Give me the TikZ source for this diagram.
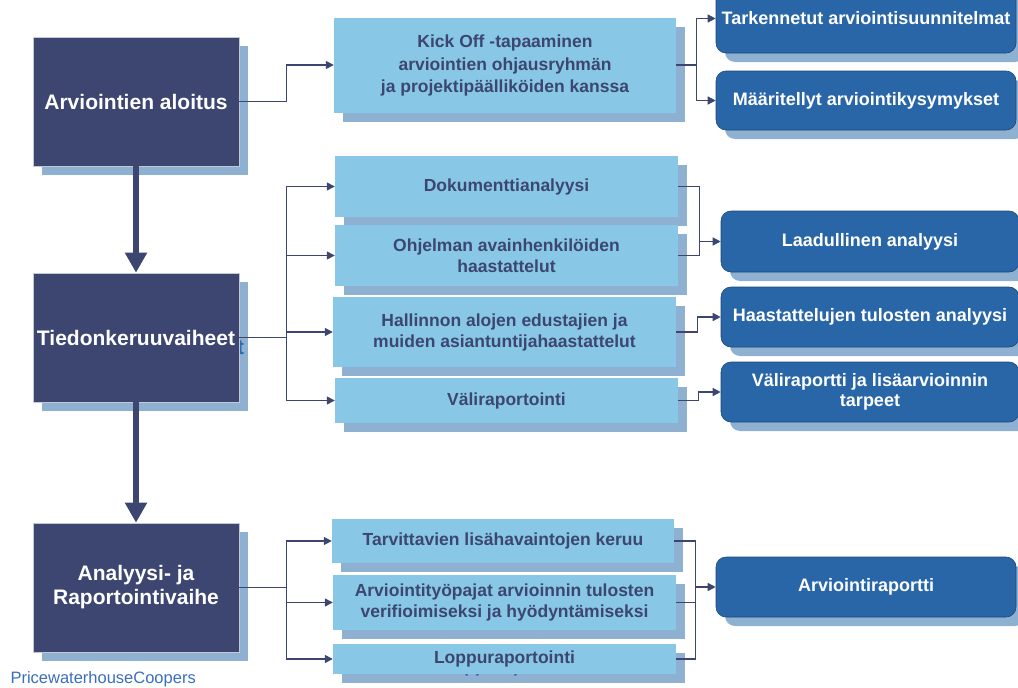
\documentclass[tikz,border=0pt]{standalone}
\usepackage{fontspec}
\setmainfont{Liberation Sans}
\usetikzlibrary{arrows.meta,calc}

\definecolor{phasenavy}{RGB}{60,70,112}
\definecolor{shadeblue}{RGB}{143,177,209}
\definecolor{stepblue}{RGB}{136,200,230}
\definecolor{resultblue}{RGB}{41,102,168}
\definecolor{ghostblue}{RGB}{43,108,176}
\definecolor{pwcblue}{RGB}{58,110,187}

% box with its offset shadow (optional arg: text showing through the shadow)
\newcommand{\boxwithshade}[5][]{%
  \node[#2,ghost] at ($(#4)+(9,9)$) {#1};
  \node[#2] (#3) at (#4) {#5};
}

\begin{document}
\begin{tikzpicture}[x=1pt,y=-1pt,
    phase/.style={fill=phasenavy,draw=white!70!phasenavy,line width=0.6pt,text=white,
      font=\fontsize{21}{24}\selectfont\bfseries,align=center,inner sep=0pt,
      minimum width=206pt,minimum height=129pt},
    stepbox/.style={fill=stepblue,text=phasenavy,font=\fontsize{17.5}{21}\selectfont\bfseries,
      align=center,inner sep=0pt,minimum width=343pt},
    result/.style={fill=resultblue,draw=resultblue!70!black,line width=0.6pt,rounded corners=10pt,
      text=white,font=\fontsize{18}{20}\selectfont\bfseries,align=center,inner sep=0pt,
      minimum width=300pt,minimum height=60pt},
    ghost/.style={fill=shadeblue,draw=none,text=ghostblue},
    wire/.style={draw=phasenavy,line width=1.4pt},
    link/.style={wire,-{Triangle[length=8pt,width=8pt]}},
    bigarrow/.style={draw=phasenavy,line width=6pt,-{Triangle[length=20pt,width=21pt]}}]
    \useasboundingbox (0,0) rectangle (1018,688);

    % phases
    \boxwithshade{phase}{start}{136,101.5}{Arviointien aloitus}
    \boxwithshade[Tiedonkeruuvaiheet]{phase}{collect}{136,337.5}{Tiedonkeruuvaiheet}
    \boxwithshade{phase}{analysis}{136,587.5}{Analyysi- ja\\Raportointivaihe}

    % steps
    \boxwithshade{stepbox,minimum width=342pt,minimum height=95pt}{kickoff}{505,65}{Kick Off -tapaaminen\\[2pt]arviointien ohjausryhmän\\[1pt]ja projektipäälliköiden kanssa}
    \boxwithshade{stepbox,minimum height=61pt}{docs}{506.5,186.5}{Dokumenttianalyysi}
    \boxwithshade{stepbox,minimum height=61pt}{keyppl}{506.5,255.5}{Ohjelman avainhenkilöiden\\haastattelut}
    \boxwithshade{stepbox,minimum height=70pt}{admin}{504.5,332}{Hallinnon alojen edustajien ja\\muiden asiantuntijahaastattelut}
    \boxwithshade{stepbox,minimum height=45pt}{interim}{506.5,400.5}{Väliraportointi}
    \boxwithshade{stepbox,minimum width=342pt,minimum height=44pt}{extra}{503,541}{Tarvittavien lisähavaintojen keruu}
    \boxwithshade[\phantom{Arviointityöpajat arvioinnin tulosten}\\verifioimiseksi ja hyödyntämiseksi]{stepbox,minimum height=55pt}{workshop}{504.5,602.5}{Arviointityöpajat arvioinnin tulosten\\verifioimiseksi ja hyödyntämiseksi}
    \boxwithshade[Loppuraportointi]{stepbox,minimum height=30pt}{final}{504.5,659}{Loppuraportointi}

    % results
    \boxwithshade{result,minimum height=69pt}{refined}{866,18.5}{\raisebox{-5pt}{Tarkennetut arviointisuunnitelmat}}
    \boxwithshade{result,minimum height=59pt}{questions}{866,100.5}{Määritellyt arviointikysymykset}
    \boxwithshade{result,minimum width=298pt,minimum height=61pt}{qual}{870,241.5}{Laadullinen analyysi}
    \boxwithshade{result,minimum width=298pt}{intan}{870,317}{Haastattelujen tulosten analyysi}
    \boxwithshade{result,minimum width=298pt}{interimrep}{870,392}{Väliraportti ja lisäarvioinnin\\tarpeet}
    \boxwithshade{result}{report}{866,587}{Arviointiraportti}

    \node[anchor=west,text=pwcblue,font=\fontsize{16.5}{18}\selectfont] (pwc) at (7,679) {PricewaterhouseCoopers};

    % phase to phase
    \draw[bigarrow] (start.south) -- (collect.north);
    \draw[bigarrow] (collect.south) -- (analysis.north);

    % phase to steps
    \draw[link] (start.east) -- ++(47,0) |- (kickoff.west);
    \draw[link] (collect.east) -- ++(47,0) coordinate (c1) |- (docs.west);
    \draw[link] (c1) |- (keyppl.west);
    \draw[link] (c1) |- (admin.west);
    \draw[link] (c1) |- (interim.west);
    \draw[link] (analysis.east) -- ++(47,0) coordinate (a1) |- (extra.west);
    \draw[link] (a1) |- (workshop.west);
    \draw[link] (a1) |- (final.west);

    % steps to results
    \draw[wire] (kickoff.east) -- ++(20,0) coordinate (k1);
    \draw[link] (k1) |- (refined.west);
    \draw[link] (k1) |- (questions.west);
    \draw[wire] (docs.east) -- ++(21,0) coordinate (d1) |- (keyppl.east);
    \draw[link] (d1 |- qual.west) -- (qual.west);
    \draw[link] (admin.east) -- ++(21,0) |- (intan.west);
    \draw[link] (interim.east) -- ++(20,0) |- (interimrep.west);
    \draw[wire] (extra.east) -- ++(21,0) coordinate (e1) |- (final.east);
    \draw[wire] (workshop.east) -- (workshop.east -| e1);
    \draw[link] (e1 |- report.west) -- (report.west);
\end{tikzpicture}
\end{document}
